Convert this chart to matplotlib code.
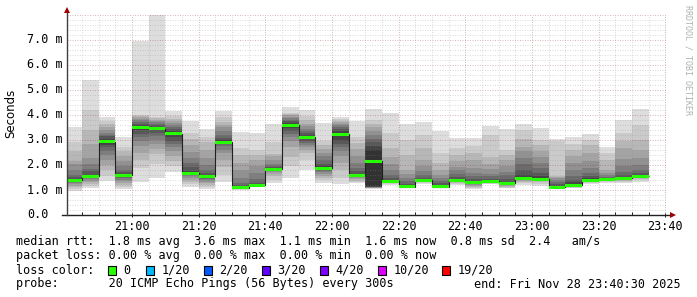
import matplotlib
matplotlib.use("Agg")
import matplotlib.pyplot as plt
import matplotlib.dates as mdates
from matplotlib.patches import Rectangle
from matplotlib.ticker import MultipleLocator, NullFormatter
from matplotlib.transforms import blended_transform_factory
import numpy as np
import pandas as pd

W, H = 697, 297

# end of every 5 min step (smokeping rrd rows)
bar_end = pd.date_range("2025-11-28 20:45", "2025-11-28 23:35", freq="5min")

# 20 sorted ping rtts per step, ms
smoke = [
    [0.97, 1.05, 1.12, 1.18, 1.24, 1.28, 1.31, 1.34, 1.37, 1.39, 1.41, 1.45, 1.52, 1.62, 1.80, 2.05, 2.15, 2.55, 2.93, 3.53],
    [1.10, 1.15, 1.25, 1.32, 1.38, 1.43, 1.47, 1.50, 1.52, 1.54, 1.56, 1.62, 1.75, 1.85, 2.05, 2.30, 2.85, 3.40, 4.20, 5.40],
    [1.36, 1.55, 1.80, 2.00, 2.20, 2.40, 2.55, 2.70, 2.82, 2.90, 2.96, 3.05, 3.15, 3.22, 3.30, 3.40, 3.50, 3.62, 3.75, 3.93],
    [1.04, 1.12, 1.20, 1.28, 1.35, 1.42, 1.48, 1.53, 1.56, 1.59, 1.62, 1.66, 1.72, 1.80, 1.95, 2.15, 2.35, 2.55, 2.73, 3.13],
    [1.33, 1.87, 2.20, 2.47, 2.75, 2.95, 3.13, 3.25, 3.38, 3.46, 3.52, 3.58, 3.64, 3.70, 3.78, 3.85, 3.90, 3.95, 4.00, 6.97],
    [1.47, 2.05, 2.45, 2.65, 2.85, 3.00, 3.15, 3.28, 3.38, 3.44, 3.47, 3.52, 3.58, 3.64, 3.70, 3.76, 3.82, 3.88, 3.93, 8.00],
    [1.73, 1.95, 2.15, 2.35, 2.55, 2.70, 2.85, 2.98, 3.10, 3.20, 3.28, 3.36, 3.44, 3.52, 3.60, 3.68, 3.76, 3.85, 3.95, 4.16],
    [1.13, 1.25, 1.33, 1.42, 1.50, 1.56, 1.60, 1.63, 1.65, 1.67, 1.70, 1.78, 1.93, 2.10, 2.30, 2.53, 2.80, 3.05, 3.27, 3.77],
    [1.04, 1.12, 1.20, 1.27, 1.34, 1.40, 1.45, 1.49, 1.52, 1.54, 1.56, 1.60, 1.67, 1.80, 2.00, 2.30, 2.60, 2.90, 3.13, 3.43],
    [1.33, 1.60, 1.93, 2.20, 2.47, 2.62, 2.75, 2.84, 2.89, 2.91, 2.94, 3.00, 3.10, 3.20, 3.35, 3.50, 3.60, 3.73, 3.90, 4.17],
    [1.00, 1.03, 1.05, 1.07, 1.08, 1.09, 1.10, 1.10, 1.11, 1.11, 1.12, 1.14, 1.20, 1.30, 1.47, 1.80, 2.10, 2.40, 2.67, 3.33],
    [1.13, 1.14, 1.15, 1.16, 1.17, 1.18, 1.18, 1.19, 1.19, 1.19, 1.20, 1.24, 1.30, 1.45, 1.67, 1.95, 2.20, 2.40, 2.60, 3.27],
    [1.28, 1.42, 1.55, 1.65, 1.72, 1.76, 1.79, 1.81, 1.82, 1.83, 1.85, 1.88, 1.92, 1.96, 2.05, 2.20, 2.35, 2.45, 2.90, 3.65],
    [1.47, 1.95, 2.33, 2.70, 2.95, 3.10, 3.22, 3.35, 3.48, 3.56, 3.62, 3.68, 3.74, 3.80, 3.86, 3.92, 3.98, 4.03, 4.10, 4.33],
    [1.80, 2.20, 2.47, 2.62, 2.73, 2.82, 2.90, 2.98, 3.05, 3.10, 3.13, 3.20, 3.28, 3.36, 3.45, 3.55, 3.65, 3.78, 3.95, 4.20],
    [1.29, 1.40, 1.50, 1.58, 1.66, 1.73, 1.78, 1.82, 1.85, 1.87, 1.90, 1.96, 2.05, 2.20, 2.35, 2.50, 2.65, 2.80, 2.95, 3.67],
    [1.24, 1.50, 1.80, 2.10, 2.35, 2.55, 2.70, 2.85, 3.00, 3.15, 3.28, 3.36, 3.44, 3.52, 3.58, 3.64, 3.70, 3.76, 3.82, 3.93],
    [1.29, 1.33, 1.38, 1.43, 1.47, 1.51, 1.54, 1.56, 1.58, 1.59, 1.61, 1.66, 1.75, 1.90, 2.07, 2.35, 2.65, 2.90, 3.13, 3.76],
    [1.05, 1.07, 1.08, 1.09, 1.10, 1.11, 1.12, 1.13, 1.14, 1.15, 2.60, 2.75, 2.90, 3.05, 3.20, 3.35, 3.50, 3.65, 3.80, 4.24],
    [1.20, 1.24, 1.27, 1.30, 1.32, 1.33, 1.34, 1.35, 1.36, 1.36, 1.37, 1.40, 1.48, 1.60, 1.80, 2.05, 2.33, 2.70, 3.30, 4.09],
    [1.07, 1.08, 1.09, 1.10, 1.11, 1.12, 1.12, 1.13, 1.13, 1.14, 1.15, 1.18, 1.25, 1.35, 1.50, 1.65, 1.80, 2.40, 3.00, 3.65],
    [1.23, 1.28, 1.32, 1.35, 1.37, 1.38, 1.39, 1.39, 1.40, 1.40, 1.41, 1.44, 1.50, 1.60, 1.75, 1.95, 2.20, 2.70, 3.20, 3.71],
    [1.07, 1.08, 1.09, 1.10, 1.11, 1.11, 1.12, 1.12, 1.13, 1.13, 1.14, 1.20, 1.27, 1.38, 1.47, 1.62, 1.80, 2.10, 2.47, 3.36],
    [1.20, 1.24, 1.28, 1.31, 1.33, 1.35, 1.37, 1.38, 1.39, 1.40, 1.41, 1.45, 1.53, 1.65, 1.80, 1.93, 2.15, 2.40, 2.67, 3.07],
    [1.04, 1.08, 1.12, 1.16, 1.20, 1.24, 1.27, 1.29, 1.30, 1.31, 1.33, 1.38, 1.45, 1.55, 1.70, 1.90, 2.20, 2.47, 2.75, 3.09],
    [1.23, 1.26, 1.29, 1.31, 1.33, 1.34, 1.35, 1.35, 1.36, 1.36, 1.37, 1.40, 1.46, 1.55, 1.65, 1.85, 2.05, 2.33, 3.20, 3.57],
    [1.07, 1.10, 1.13, 1.16, 1.19, 1.21, 1.23, 1.24, 1.25, 1.26, 1.28, 1.33, 1.45, 1.60, 1.73, 1.95, 2.20, 2.40, 2.60, 3.43],
    [1.20, 1.28, 1.34, 1.38, 1.41, 1.43, 1.45, 1.46, 1.47, 1.47, 1.48, 1.60, 1.80, 2.05, 2.30, 2.55, 2.73, 3.05, 3.40, 3.63],
    [1.17, 1.25, 1.32, 1.36, 1.39, 1.41, 1.42, 1.43, 1.43, 1.44, 1.45, 1.55, 1.70, 1.90, 2.10, 2.33, 2.55, 2.80, 3.00, 3.47],
    [1.04, 1.06, 1.08, 1.09, 1.10, 1.10, 1.11, 1.11, 1.11, 1.12, 1.13, 1.18, 1.24, 1.32, 1.40, 1.47, 1.53, 1.58, 2.95, 3.03],
    [1.07, 1.10, 1.13, 1.16, 1.18, 1.20, 1.21, 1.22, 1.23, 1.24, 1.25, 1.32, 1.40, 1.55, 1.80, 2.10, 2.35, 2.60, 2.85, 3.13],
    [1.24, 1.28, 1.31, 1.34, 1.36, 1.37, 1.38, 1.39, 1.40, 1.40, 1.41, 1.47, 1.55, 1.67, 1.90, 2.15, 2.47, 2.80, 3.00, 3.24],
    [1.27, 1.32, 1.36, 1.38, 1.40, 1.41, 1.42, 1.42, 1.43, 1.43, 1.44, 1.47, 1.50, 1.53, 1.60, 1.70, 1.80, 2.20, 2.50, 2.73],
    [1.27, 1.33, 1.38, 1.41, 1.43, 1.45, 1.46, 1.47, 1.47, 1.48, 1.49, 1.53, 1.60, 1.73, 1.95, 2.25, 2.67, 2.95, 3.27, 3.80],
    [1.33, 1.40, 1.45, 1.49, 1.52, 1.54, 1.55, 1.56, 1.56, 1.57, 1.58, 1.62, 1.67, 1.80, 2.00, 2.30, 2.60, 3.00, 3.60, 4.23],
]

medians = [1.40, 1.55, 2.93, 1.60, 3.49, 3.45, 3.25, 1.67, 1.55, 2.92,
           1.10, 1.19, 1.83, 3.59, 3.11, 1.87, 3.23, 1.59, 2.16, 1.36,
           1.14, 1.40, 1.13, 1.40, 1.31, 1.36, 1.27, 1.47, 1.43, 1.11,
           1.20, 1.40, 1.43, 1.48, 1.56]

loss_labels = ["0", "1/20", "2/20", "3/20", "4/20", "10/20", "19/20"]
loss_colors = ["#26ff00", "#00b8ff", "#0059ff", "#5e00ff", "#7e00ff", "#dd00ff", "#ff0000"]
loss_box_x = [108, 146, 204, 262, 320, 378, 442]

line_rtt = "median rtt:  1.8 ms avg  3.6 ms max  1.1 ms min  1.6 ms now  0.8 ms sd  2.4   am/s"
line_loss = "packet loss: 0.00 % avg  0.00 % max  0.00 % min  0.00 % now"
line_probe = "probe:       20 ICMP Echo Pings (56 Bytes) every 300s"
line_end = "end: Fri Nov 28 23:40:30 2025"

mono = "DejaVu Sans Mono"
fs = 8.5

P = np.array(smoke)
med = np.array(medians)
x_end = mdates.date2num(bar_end)
step = 5 / 1440.0
x_start = x_end - step

fig = plt.figure(figsize=(W / 100, H / 100), dpi=100)
fig.patch.set_facecolor("white")
ax = fig.add_axes([67 / W, 82 / H, 600 / W, 200 / H])
ax.set_facecolor("white")

# smoke: nested bands, darker towards the middle
for i in range(10):
    g = int(190 / 10 * (10 - (i + 1))) + 50
    col = "#%02x%02x%02x" % (g, g, g)
    ax.bar(x_start, P[:, 19 - i] - P[:, i], bottom=P[:, i], width=step,
           align="edge", color=col, linewidth=0, antialiased=False, zorder=1)

edges = np.append(x_start, x_end[-1])
ax.stairs(med, edges, baseline=None, color="#202020", linewidth=0.8, zorder=3)
ax.bar(x_start, 0.12, bottom=med - 0.06, width=step, align="edge",
       color=loss_colors[0], linewidth=0, antialiased=False, zorder=4)

t0 = mdates.date2num(pd.Timestamp("2025-11-28 20:40:30"))
t1 = mdates.date2num(pd.Timestamp("2025-11-28 23:40:30"))
ax.set_xlim(t0, t1)
ax.set_ylim(0, 8.0)

ax.xaxis.set_major_locator(mdates.MinuteLocator(byminute=[0, 20, 40]))
ax.xaxis.set_minor_locator(mdates.MinuteLocator(byminute=range(0, 60, 5)))
ax.xaxis.set_major_formatter(mdates.DateFormatter("%H:%M"))
ax.yaxis.set_major_locator(MultipleLocator(1.0))
ax.yaxis.set_minor_locator(MultipleLocator(0.2))
ax.yaxis.set_major_formatter(NullFormatter())

# rrdtool puts the (half transparent) grid over the graph
ax.set_axisbelow(False)
ax.grid(which="minor", color="#8c8c8c", alpha=0.3, linewidth=0.72, linestyle=(0, (1, 1.5)))
ax.grid(which="major", color="#821e1e", alpha=0.3, linewidth=0.72, linestyle=(0, (1, 1.5)))

for s in ax.spines.values():
    s.set_visible(False)
ax.tick_params(axis="x", which="major", length=3, width=0.7, color="#202020",
               direction="inout", pad=2, labelsize=fs)
ax.tick_params(axis="x", which="minor", length=2, width=0.7, color="#202020", direction="in")
ax.tick_params(axis="y", which="both", length=0)
for lab in ax.get_xticklabels():
    lab.set_fontfamily(mono)

# axis lines with arrows
ax.plot([-5 / 600, 1 + 5 / 600], [0, 0], color="#202020", lw=1.0,
        transform=ax.transAxes, clip_on=False, zorder=5)
ax.plot([0, 0], [0, 1 + 4 / 200], color="#404040", lw=1.0,
        transform=ax.transAxes, clip_on=False, zorder=5)
ax.plot([1 + 6 / 600], [0], marker=">", markersize=4, color="#a00000",
        transform=ax.transAxes, clip_on=False, zorder=6, markeredgewidth=0)
ax.plot([0], [1 + 5 / 200], marker="^", markersize=4, color="#a00000",
        transform=ax.transAxes, clip_on=False, zorder=6, markeredgewidth=0)

# y labels, left aligned like rrdtool
ylab_tr = blended_transform_factory(fig.transFigure, ax.transData)
for v in range(8):
    txt = "0.0" if v == 0 else "%.1f m" % v
    ax.text(27 / W, v, txt, transform=ylab_tr, ha="left", va="center",
            fontsize=fs, family=mono, color="black")

fig.text(11 / W, 1 - 113 / H, "Seconds", rotation=90, ha="center", va="center",
         fontsize=8.5, family="DejaVu Sans")
fig.text(688 / W, 1 - 5 / H, "RRDTOOL / TOBI OETIKER", rotation=-90, ha="center", va="top",
         fontsize=6, family=mono, color="#b0b0b0")

rows = [241, 256, 270, 284]
fig.text(16 / W, 1 - rows[0] / H, line_rtt, ha="left", va="center", fontsize=fs, family=mono)
fig.text(16 / W, 1 - rows[1] / H, line_loss, ha="left", va="center", fontsize=fs, family=mono)
fig.text(16 / W, 1 - rows[2] / H, "loss color:", ha="left", va="center", fontsize=fs, family=mono)
for bx, col, lab in zip(loss_box_x, loss_colors, loss_labels):
    fig.patches.append(Rectangle((bx / W, 1 - (rows[2] + 4.5) / H), 8 / W, 9 / H,
                                 transform=fig.transFigure, facecolor=col,
                                 edgecolor="black", linewidth=0.8))
    fig.text((bx + 15.5) / W, 1 - rows[2] / H, lab, ha="left", va="center", fontsize=fs, family=mono)
fig.text(16 / W, 1 - rows[3] / H, line_probe, ha="left", va="center", fontsize=fs, family=mono)
fig.text(681 / W, 1 - rows[3] / H, line_end, ha="right", va="center", fontsize=fs, family=mono)

fig.savefig("out.png", dpi=100)
